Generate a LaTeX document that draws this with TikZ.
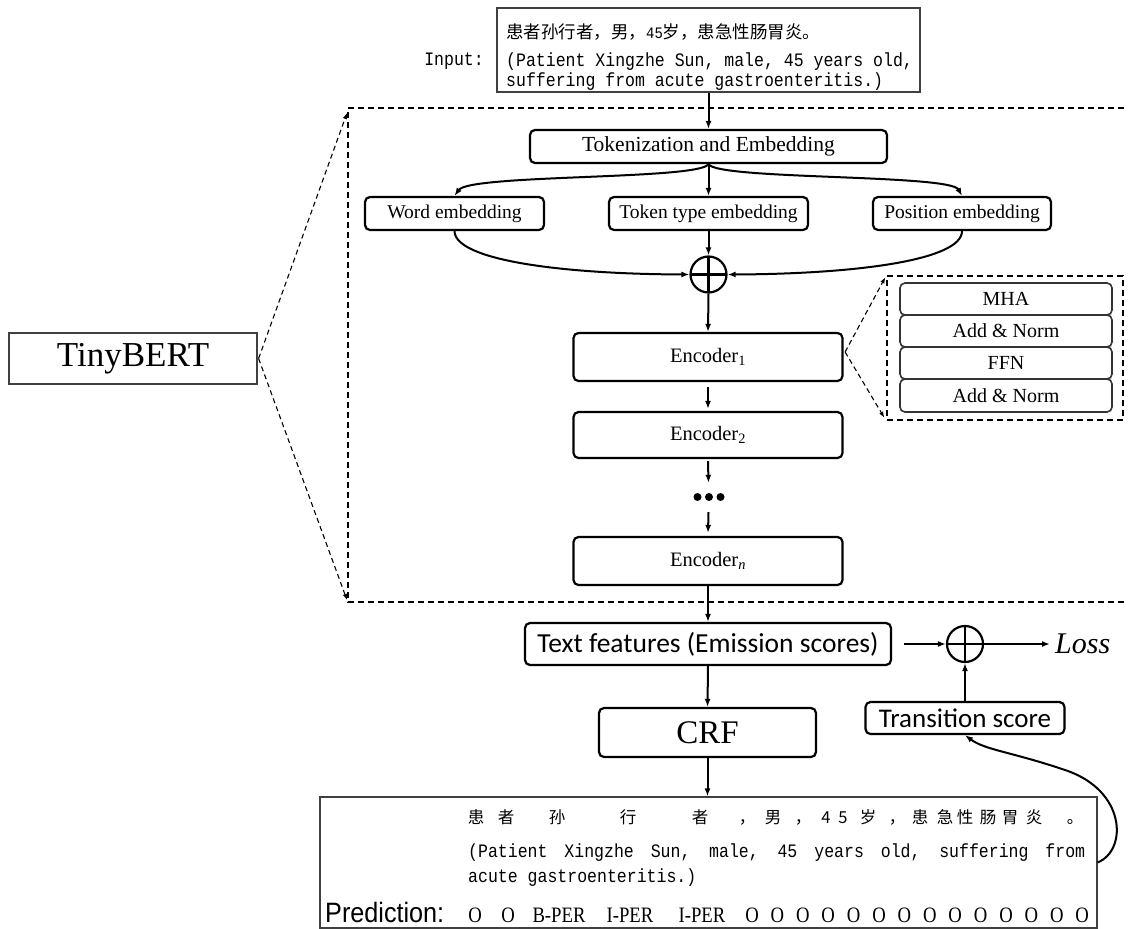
\documentclass[tikz,border=0pt]{standalone}
\usepackage{fontspec}
\setmainfont{Liberation Serif}
\newfontfamily\cjk{Noto Sans CJK SC}
\newfontfamily\calfont{Carlito}
\newfontfamily\monofont[FakeStretch=0.87]{Liberation Mono}
\newfontfamily\predfont[FakeStretch=0.9]{Liberation Sans}
\newfontfamily\tagfont[FakeStretch=0.85]{Liberation Serif}
\usetikzlibrary{arrows.meta}
\newcommand\setfs[1]{\fontsize{#1}{#1}\selectfont}
\begin{document}
\begin{tikzpicture}[x=1pt,y=-1pt,
  rbox/.style={draw, rounded corners=5pt, line width=2.2pt, inner sep=0pt},
  sbox/.style={draw=black!75, line width=1.2pt, inner sep=0pt},
  ibox/.style={draw=black!80, rounded corners=5pt, line width=1.6pt, inner sep=0pt, minimum width=212pt, font=\setfs{20}},
  arr/.style={-{Latex[length=8pt,width=6pt]}, line width=2pt},
  darr/.style={-{Latex[length=6pt,width=4.5pt]}, line width=1.1pt, dash pattern=on 5pt off 3.5pt},
  dline/.style={line width=1.4pt, dash pattern=on 6pt off 4pt},
  plus/.style={circle, draw, line width=2.2pt, minimum size=36pt, inner sep=0pt,
    path picture={\draw[line width=2.2pt] (path picture bounding box.north) -- (path picture bounding box.south)
      (path picture bounding box.west) -- (path picture bounding box.east);}},
  txt/.style={inner sep=0pt}]
\fill[white] (0,0) rectangle (1128,929);
\useasboundingbox (0,0) rectangle (1128,929);

% input
\node[sbox, minimum width=423pt, minimum height=84pt] (inp) at (708.5,50) {};
\node[txt, anchor=base west] (in1) at (506,38) {\cjk\setfs{17.5}患者孙行者，男，{\monofont\setfs{16}45}岁，患急性肠胃炎。};
\node[txt, anchor=base west] (in2) at (506,66) {\monofont\setfs{19}(Patient Xingzhe Sun, male, 45 years old,};
\node[txt, anchor=base west] (in3) at (506,86) {\monofont\setfs{19}suffering from acute gastroenteritis.)};
\node[txt, anchor=base east] (inlab) at (484,65) {\monofont\setfs{19}Input:};

% big dashed frame
\coordinate (bbtl) at (348,108);
\coordinate (bbbl) at (348,602);
\draw[dline] (1134,108) -- (bbtl) -- (bbbl) -- (1134,602);

% TinyBERT
\node[sbox, minimum width=248pt, minimum height=51pt, font=\setfs{35}] (tiny) at (133,358.5) {TinyBERT};
\draw[darr] ([xshift=1pt]tiny.east) -- ([xshift=-1pt,yshift=-5pt]bbtl);
\draw[darr] ([xshift=1pt]tiny.east) -- ([xshift=-1pt,yshift=2pt]bbbl);

% embedding part
\node[rbox, minimum width=357pt, minimum height=33pt, font=\setfs{21.5}] (tok) at (708.5,146.5) {Tokenization and Embedding};
\node[rbox, minimum width=179pt, minimum height=33pt, font=\setfs{19.5}] (we) at (454.5,213.5) {Word embedding};
\node[rbox, minimum width=199pt, minimum height=33pt, font=\setfs{19.5}] (tt) at (708.5,213.5) {Token type embedding};
\node[rbox, minimum width=178pt, minimum height=33pt, font=\setfs{19.5}] (pe) at (962,213.5) {Position embedding};
\node[plus] (plus1) at (708.5,274.5) {};

\draw[arr] (inp.south) -- (tok.north);
\draw[arr] (tok.south) .. controls (700,180) and (470,174) .. (we.north);
\draw[arr] (tok.south) -- (tt.north);
\draw[arr] (tok.south) .. controls (717,180) and (950,174) .. (pe.north);
\draw[arr] (tt.south) -- (plus1.north);
\draw[arr] (we.south) .. controls (455,260) and (560,274) .. (plus1.west);
\draw[arr] (pe.south) .. controls (962,260) and (857,274) .. (plus1.east);

% encoders
\node[rbox, minimum width=269pt, minimum height=48pt, font=\setfs{20.5}] (enc1) at (708,357) {Encoder\textsubscript{1}};
\node[rbox, minimum width=269pt, minimum height=46pt, font=\setfs{20.5}] (enc2) at (708,435) {Encoder\textsubscript{2}};
\node[txt, minimum width=30pt, minimum height=10pt] (dots) at (708.5,497) {};
\fill (697.5,497) circle (4pt) (709,497) circle (4pt) (720.5,497) circle (4pt);
\node[rbox, minimum width=269pt, minimum height=48pt, font=\setfs{20.5}] (encn) at (708,561) {Encoder\textsubscript{\textit{n}}};
\draw[arr] (plus1.south) -- (enc1.north);
\draw[arr] ([yshift=-5pt]enc1.south) -- ([yshift=2pt]enc2.north);
\draw[arr] ([yshift=-2pt]enc2.south) -- ([yshift=9pt]dots.north);
\draw[arr] ([yshift=-10pt]dots.south) -- ([yshift=3pt]encn.north);

% encoder detail
\node[draw, dline, minimum width=236pt, minimum height=144pt, inner sep=0pt] (encd) at (1005,348) {};
\node[ibox, minimum height=32pt] (mha) at (1006,299) {MHA};
\node[ibox, minimum height=32pt] (an1) at (1006,331) {Add \& Norm};
\node[ibox, minimum height=32pt] (ffn) at (1006,363) {FFN};
\node[ibox, minimum height=33pt] (an2) at (1006,395.5) {Add \& Norm};
\draw[darr] ([xshift=1.5pt,yshift=5pt]enc1.east) -- ([xshift=-1pt,yshift=-2pt]encd.north west);
\draw[darr] ([xshift=1.5pt,yshift=5pt]enc1.east) -- ([xshift=-2pt,yshift=3pt]encd.south west);

% CRF part
\node[rbox, minimum width=366pt, minimum height=42pt, font=\calfont\setfs{27.5}] (tf) at (708,644) {Text features (Emission scores)};
\node[plus] (plus2) at (965,644) {};
\node[txt, anchor=west, font=\itshape\setfs{30}] (loss) at (1055,644) {Loss};
\node[rbox, minimum width=199pt, minimum height=32pt, font=\calfont\setfs{27}] (tr) at (965,718) {Transition score};
\node[rbox, minimum width=217pt, minimum height=49pt, font=\setfs{33}] (crf) at (707.5,732.5) {CRF};
\draw[arr] (encn.south) -- (tf.north);
\draw[arr] (tf.south) -- (crf.north);
\draw[arr] ([xshift=12pt]tf.east) -- (plus2.west);
\draw[arr] (plus2.east) -- ([xshift=-5pt]loss.west);
\draw[arr] (tr.north) -- (plus2.south);

% output
\node[sbox, minimum width=777pt, minimum height=131pt] (out) at (708.5,862.5) {};
\draw[arr] (crf.south) -- (crf.south |- out.north);
\draw[arr] (out.east) .. controls (1128,850) and (1126,790) .. (1065,770) .. controls (1012,752) and (985,750) .. (tr.south);

\foreach \x/\c in {476/患, 506/者, 557/孙, 628/行, 700/者, 747/，, 773/男, 803/，, 826/4, 843/5, 868/岁, 897/，, 920/患, 945/急, 965/性, 988/肠, 1010/胃, 1034/炎, 1075/。}
  \node[txt, anchor=base, font=\cjk\setfs{16.5}] (c\x) at (\x,823) {\c};
\node[txt, anchor=base west] (o1) at (468,857) {\monofont\setfs{19}\spaceskip=0.5em plus 1fil\relax\hbox to 617pt{(Patient Xingzhe Sun, male, 45 years old, suffering from}};
\node[txt, anchor=base west] (o2) at (468,882) {\monofont\setfs{19}acute gastroenteritis.)};
\node[txt, anchor=base west, font=\predfont\setfs{28}] (pred) at (325,922) {Prediction:};
\foreach \x/\t/\n in {475/O/a, 508/O/b, 559/B-PER/c, 630/I-PER/d, 702/I-PER/e}
  \node[txt, anchor=base, font=\tagfont\setfs{22}] (t\n) at (\x,922) {\t};
\foreach \k in {0,...,13}
  \node[txt, anchor=base, font=\tagfont\setfs{22}] (z\k) at ({752+25.4*\k},922) {O};
\end{tikzpicture}
\end{document}
